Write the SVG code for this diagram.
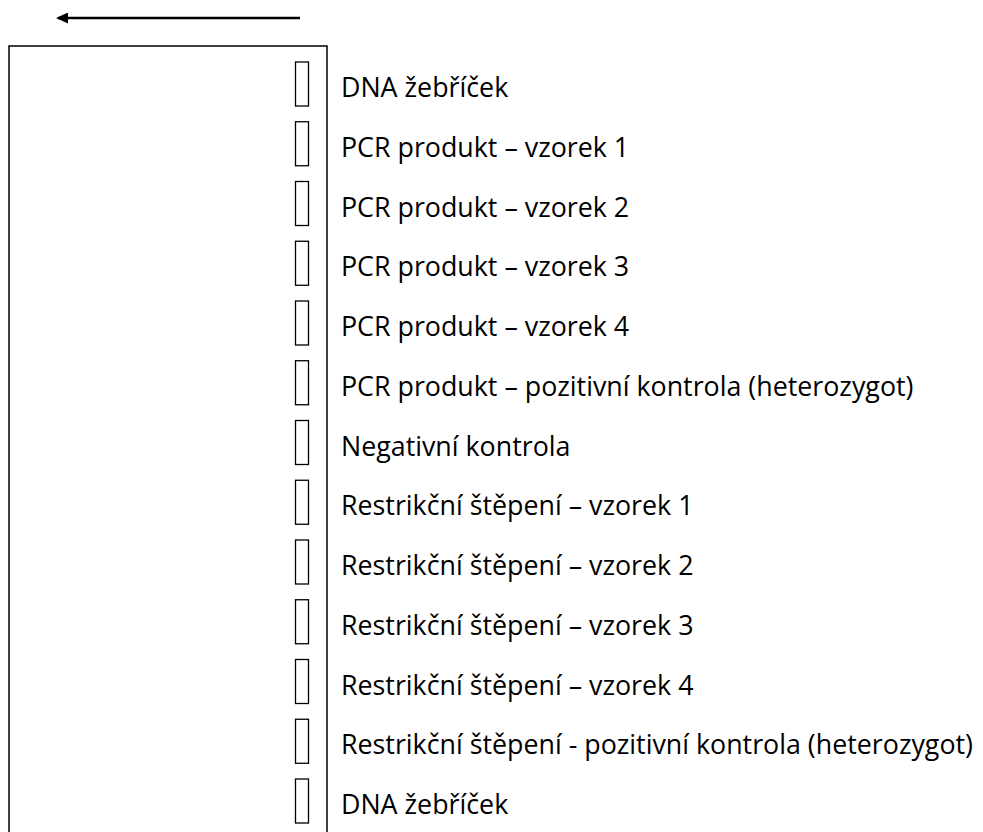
<svg xmlns="http://www.w3.org/2000/svg" width="983" height="832" viewBox="0 0 983 832">
<style>
.gel{fill:#fff;stroke:#000;stroke-width:1.5}
.well{fill:#fff;stroke:#000;stroke-width:1.3}
.lbl{font-family:"Open Sans","Liberation Sans",sans-serif;font-size:26.8px;fill:#000}
.conn{stroke:#000;stroke-width:2.5;fill:none}
</style>
<defs>
<marker id="ah" markerWidth="12" markerHeight="11" refX="10" refY="5.5" orient="auto" markerUnits="userSpaceOnUse">
<path d="M0,0 L12,5.5 L0,11 Z" fill="#000"/>
</marker>
</defs>
<rect width="983" height="832" fill="#fff"/>
<g id="connectors">
<line class="conn" x1="300" y1="18" x2="58" y2="18" marker-end="url(#ah)"/>
</g>
<g id="gel"><rect class="gel" x="9" y="46" width="318" height="800"/></g>
<g id="lane1"><rect class="well" x="295.5" y="62" width="13" height="44"/><text class="lbl" x="341" y="97">DNA žebříček</text></g>
<g id="lane2"><rect class="well" x="295.5" y="121.75" width="13" height="44"/><text class="lbl" x="341" y="156.75">PCR produkt – vzorek 1</text></g>
<g id="lane3"><rect class="well" x="295.5" y="181.5" width="13" height="44"/><text class="lbl" x="341" y="216.5">PCR produkt – vzorek 2</text></g>
<g id="lane4"><rect class="well" x="295.5" y="241.25" width="13" height="44"/><text class="lbl" x="341" y="276.25">PCR produkt – vzorek 3</text></g>
<g id="lane5"><rect class="well" x="295.5" y="301" width="13" height="44"/><text class="lbl" x="341" y="336">PCR produkt – vzorek 4</text></g>
<g id="lane6"><rect class="well" x="295.5" y="360.75" width="13" height="44"/><text class="lbl" x="341" y="395.75">PCR produkt – pozitivní kontrola (heterozygot)</text></g>
<g id="lane7"><rect class="well" x="295.5" y="420.5" width="13" height="44"/><text class="lbl" x="341" y="455.5">Negativní kontrola</text></g>
<g id="lane8"><rect class="well" x="295.5" y="480.25" width="13" height="44"/><text class="lbl" x="341" y="515.25">Restrikční štěpení – vzorek 1</text></g>
<g id="lane9"><rect class="well" x="295.5" y="540" width="13" height="44"/><text class="lbl" x="341" y="575">Restrikční štěpení – vzorek 2</text></g>
<g id="lane10"><rect class="well" x="295.5" y="599.75" width="13" height="44"/><text class="lbl" x="341" y="634.75">Restrikční štěpení – vzorek 3</text></g>
<g id="lane11"><rect class="well" x="295.5" y="659.5" width="13" height="44"/><text class="lbl" x="341" y="694.5">Restrikční štěpení – vzorek 4</text></g>
<g id="lane12"><rect class="well" x="295.5" y="719.25" width="13" height="44"/><text class="lbl" x="341" y="754.25">Restrikční štěpení - pozitivní kontrola (heterozygot)</text></g>
<g id="lane13"><rect class="well" x="295.5" y="779" width="13" height="44"/><text class="lbl" x="341" y="814">DNA žebříček</text></g>
</svg>
